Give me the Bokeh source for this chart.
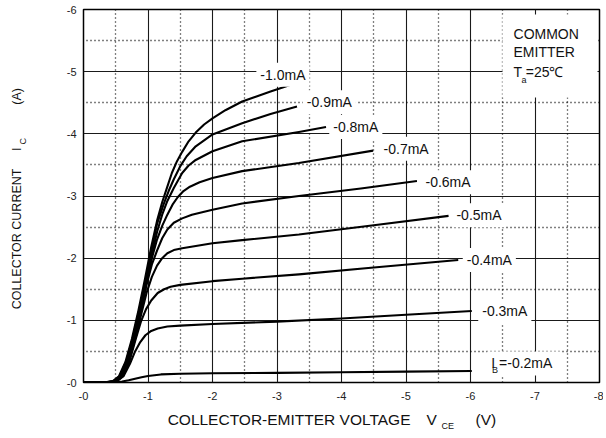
import math
from bokeh.plotting import figure
from bokeh.layouts import column, row
from bokeh.models import Range1d, FixedTicker, Grid, Label, BoxAnnotation
from bokeh.core.properties import value
from bokeh.embed import file_html
from bokeh.resources import INLINE

FONT = "Liberation Sans"

# ---- axes ----
x_ticks = [0, -1, -2, -3, -4, -5, -6, -7, -8]
x_tick_labels = ["-0", "-1", "-2", "-3", "-4", "-5", "-6", "-7", "-8"]
y_ticks = [0, -1, -2, -3, -4, -5, -6]
y_tick_labels = ["-0", "-1", "-2", "-3", "-4", "-5", "-6"]
x_major_grid = [-1, -2, -3, -4, -5, -6, -7]
x_minor_grid = [-0.5, -1.5, -2.5, -3.5, -4.5, -5.5, -6.5, -7.5]
y_major_grid = [-1, -2, -3, -4, -5]
y_minor_grid = [-0.5, -1.5, -2.5, -3.5, -4.5, -5.5]

# ---- curves: VCE (V), IC (A) per base current ----
vce_02 = [0, -0.3, -0.5, -0.6, -0.7, -0.8, -0.9, -1.0, -1.2, -1.5, -2.0, -3.0, -4.0, -5.0, -6.02]
ic_02 = [0, 0, -0.005, -0.015, -0.035, -0.06, -0.085, -0.105, -0.13, -0.14, -0.15, -0.155, -0.165, -0.175, -0.185]

vce_03 = [0, -0.37, -0.52, -0.62, -0.72, -0.8, -0.88, -0.96, -1.05, -1.15, -1.3, -1.5, -2.0, -3.0, -4.0, -5.0, -6.02]
ic_03 = [0, 0, -0.02, -0.1, -0.3, -0.5, -0.65, -0.76, -0.83, -0.87, -0.9, -0.915, -0.94, -0.98, -1.03, -1.09, -1.15]

vce_04 = [0, -0.36, -0.51, -0.61, -0.71, -0.81, -0.89, -0.97, -1.05, -1.15, -1.25, -1.35, -1.5, -2.0, -2.46, -3.34, -4.5, -5.81]
ic_04 = [0, 0, -0.02, -0.1, -0.33, -0.7, -0.98, -1.18, -1.32, -1.44, -1.5, -1.54, -1.57, -1.63, -1.67, -1.74, -1.85, -1.97]

vce_05 = [0, -0.35, -0.5, -0.6, -0.7, -0.8, -0.9, -0.98, -1.06, -1.14, -1.22, -1.3, -1.4, -1.53, -2.0, -2.46, -3.34, -4.5, -5.66]
ic_05 = [0, 0, -0.02, -0.1, -0.33, -0.7, -1.12, -1.45, -1.7, -1.88, -2.0, -2.08, -2.13, -2.16, -2.24, -2.29, -2.38, -2.53, -2.68]

vce_06 = [0, -0.34, -0.49, -0.59, -0.69, -0.79, -0.89, -0.98, -1.06, -1.14, -1.22, -1.3, -1.4, -1.53, -1.68, -2.0, -2.46, -3.34, -4.3, -5.17]
ic_06 = [0, 0, -0.02, -0.1, -0.33, -0.7, -1.15, -1.58, -1.9, -2.12, -2.32, -2.46, -2.57, -2.64, -2.7, -2.78, -2.88, -3.0, -3.12, -3.24]

vce_07 = [0, -0.33, -0.48, -0.58, -0.68, -0.78, -0.88, -0.98, -1.06, -1.14, -1.22, -1.3, -1.38, -1.46, -1.55, -1.65, -1.8, -2.0, -2.46, -3.34, -4.49]
ic_07 = [0, 0, -0.02, -0.1, -0.33, -0.7, -1.15, -1.62, -2.0, -2.3, -2.52, -2.7, -2.86, -2.98, -3.08, -3.15, -3.22, -3.29, -3.4, -3.53, -3.73]

vce_08 = [0, -0.32, -0.47, -0.57, -0.67, -0.77, -0.87, -0.98, -1.06, -1.14, -1.22, -1.3, -1.4, -1.53, -1.63, -1.74, -2.0, -2.46, -3.34, -3.76]
ic_08 = [0, 0, -0.02, -0.1, -0.33, -0.7, -1.15, -1.64, -2.05, -2.42, -2.7, -2.92, -3.13, -3.37, -3.49, -3.58, -3.72, -3.88, -4.03, -4.11]

vce_09 = [0, -0.31, -0.46, -0.56, -0.66, -0.76, -0.86, -0.97, -1.05, -1.14, -1.24, -1.32, -1.4, -1.5, -1.6, -1.74, -2.0, -2.46, -2.9, -3.31]
ic_09 = [0, 0, -0.02, -0.1, -0.33, -0.7, -1.15, -1.66, -2.1, -2.55, -2.86, -3.08, -3.27, -3.48, -3.64, -3.8, -3.99, -4.17, -4.32, -4.44]

vce_10 = [0, -0.3, -0.45, -0.55, -0.65, -0.75, -0.85, -0.95, -1.05, -1.14, -1.22, -1.3, -1.37, -1.45, -1.53, -1.63, -1.74, -1.87, -2.0, -2.2, -2.46, -2.9, -3.25]
ic_10 = [0, 0, -0.02, -0.1, -0.33, -0.7, -1.15, -1.65, -2.18, -2.6, -2.9, -3.15, -3.37, -3.56, -3.71, -3.88, -4.02, -4.15, -4.25, -4.38, -4.52, -4.68, -4.8]

curves = [(vce_02, ic_02), (vce_03, ic_03), (vce_04, ic_04), (vce_05, ic_05), (vce_06, ic_06),
          (vce_07, ic_07), (vce_08, ic_08), (vce_09, ic_09), (vce_10, ic_10)]

# ---- curve labels (left edge, vertical centre) ----
curve_labels = ["-1.0mA", "-0.9mA", "-0.8mA", "-0.7mA", "-0.6mA", "-0.5mA", "-0.4mA", "-0.3mA"]
label_x = [-2.68, -3.40, -3.81, -4.59, -5.24, -5.72, -5.88, -6.12]
label_y = [-4.95, -4.51, -4.11, -3.76, -3.22, -2.69, -1.97, -1.15]

# ---- main plot ----
p = figure(width=563, height=408, x_range=Range1d(0, -8), y_range=Range1d(0, -6),
           output_backend="svg", toolbar_location=None,
           min_border_left=43, min_border_right=4, min_border_top=9, min_border_bottom=26)
p.background_fill_color = "white"
p.border_fill_color = "white"
p.outline_line_color = "black"
p.outline_line_width = 1.5
p.outline_line_alpha = 1.0

for ax, ticks, labs, stand in ((p.xaxis[0], x_ticks, x_tick_labels, 9), (p.yaxis[0], y_ticks, y_tick_labels, 7)):
    ax.ticker = FixedTicker(ticks=ticks)
    ax.major_label_overrides = {t: l for t, l in zip(ticks, labs)}
    ax.axis_line_color = None
    ax.major_tick_line_color = None
    ax.minor_tick_line_color = None
    ax.major_tick_out = 0
    ax.major_tick_in = 0
    ax.major_label_standoff = stand
    ax.major_label_text_font = FONT
    ax.major_label_text_font_size = "11px"
    ax.major_label_text_color = "#222222"

p.xgrid.ticker = FixedTicker(ticks=x_major_grid)
p.ygrid.ticker = FixedTicker(ticks=y_major_grid)
for g in (p.xgrid[0], p.ygrid[0]):
    g.grid_line_color = "#1a1a1a"
    g.grid_line_width = 1.1
    g.grid_line_alpha = 1.0

p.add_layout(Grid(dimension=0, ticker=FixedTicker(ticks=x_minor_grid),
                  grid_line_color="black", grid_line_width=1.3, grid_line_dash="1 3"))
p.add_layout(Grid(dimension=1, ticker=FixedTicker(ticks=y_minor_grid),
                  grid_line_color="black", grid_line_width=1.3, grid_line_dash="1 3"))

for vx, vy in curves:
    p.line(vx, vy, line_color="black", line_width=2.1, line_join="round")

# white box behind the note
p.add_layout(BoxAnnotation(left=-6.496, right=-7.969, top=-5.919, bottom=-4.584,
                           fill_color="white", fill_alpha=1.0, line_color=None))

def lab(x, y, text, size="14px", align="left", bg=False, pad=4):
    kw = dict(x=x, y=y, text=text, text_font=FONT, text_font_size=size,
              text_align=align, text_baseline="middle", text_color="#111111")
    if bg:
        kw.update(background_fill_color="white", background_fill_alpha=1.0, padding=pad)
    p.add_layout(Label(**kw))

for t, lx, ly in zip(curve_labels, label_x, label_y):
    lab(lx, ly, t, bg=True)

lab(-6.26, -0.306, "I  =-0.2mA", bg=True)
lab(-6.333, -0.209, "B", size="9px")

lab(-6.667, -5.60, "COMMON")
lab(-6.667, -5.31, "EMITTER")
lab(-6.667, -4.99, "T  =25\u2103")
lab(-6.79, -4.86, "a", size="9px")

# ---- axis-title strips (pixel coordinate frames) ----
def strip(w, h):
    f = figure(width=w, height=h, x_range=Range1d(0, w), y_range=Range1d(h, 0),
               x_axis_type=None, y_axis_type=None, output_backend="svg",
               toolbar_location=None, min_border=0)
    f.outline_line_color = None
    f.background_fill_color = "white"
    f.border_fill_color = "white"
    return f

ytitle = strip(40, 408)
ytitle_text = ["COLLECTOR CURRENT", "I", "(A)"]
ytitle.text(x=[16, 16, 16], y=[251, 153, 95], text=ytitle_text, angle=math.pi / 2,
            text_font=value(FONT), text_font_size=value("12.5px"), text_align="center",
            text_baseline="middle", text_color="#111111")
ytitle.text(x=[22], y=[144], text=["C"], angle=math.pi / 2,
            text_font=value(FONT), text_font_size=value("9px"), text_align="center",
            text_baseline="middle", text_color="#111111")

xtitle = strip(603, 24)
xtitle.text(x=[410], y=[11], text=["COLLECTOR-EMITTER VOLTAGE"],
            text_font=value(FONT), text_font_size=value("15.5px"), text_align="right",
            text_baseline="middle", text_color="#111111")
xtitle.text(x=[426, 475], y=[11, 11], text=["V", "(V)"],
            text_font=value(FONT), text_font_size=value("15.5px"), text_align="left",
            text_baseline="middle", text_color="#111111")
xtitle.text(x=[441], y=[17], text=["CE"],
            text_font=value(FONT), text_font_size=value("9px"), text_align="left",
            text_baseline="middle", text_color="#111111")

layout = column(row(ytitle, p, spacing=0), xtitle, spacing=0)

open("out.html", "w").write(file_html(layout, INLINE))
